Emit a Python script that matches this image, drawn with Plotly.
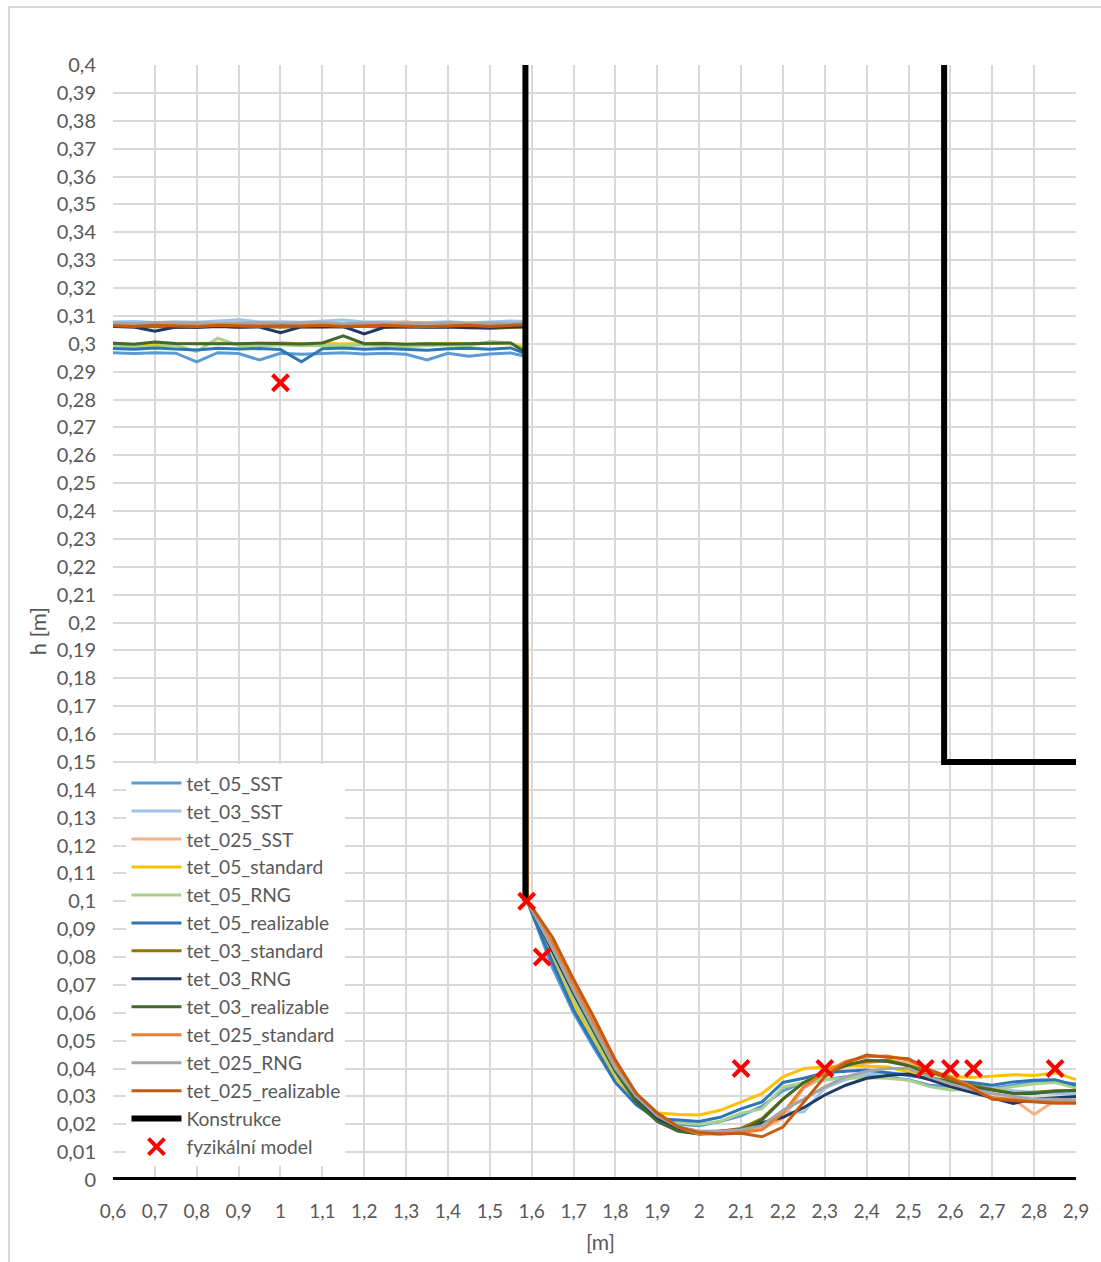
import plotly.graph_objects as go

# ---- x positions [m] ----
x_up = [0.60, 0.65, 0.70, 0.75, 0.80, 0.85, 0.90, 0.95, 1.00, 1.05, 1.10,
        1.15, 1.20, 1.25, 1.30, 1.35, 1.40, 1.45, 1.50, 1.55, 1.585]
x_down = [1.59, 1.60, 1.65, 1.70, 1.75, 1.80, 1.85, 1.90, 1.95, 2.00, 2.05,
          2.10, 2.15, 2.20, 2.25, 2.30, 2.35, 2.40, 2.45, 2.50, 2.55, 2.60,
          2.65, 2.70, 2.75, 2.80, 2.85, 2.90]

# ---- water level h [m] upstream of the gate ----
up_05_SST = [.2968, .2965, .2968, .2966, .2935, .2968, .2965, .2942, .2966, .2962, .2965,
             .2968, .2963, .2966, .2962, .2942, .2966, .2955, .2963, .2967, .2955]
up_03_SST = [.3078, .3080, .3076, .3079, .3077, .3082, .3086, .3078, .3079, .3077, .3082,
             .3085, .3078, .3079, .3077, .3076, .3079, .3075, .3078, .3082, .3080]
up_025_SST = [.3072, .3068, .3074, .3071, .3073, .3069, .3072, .3074, .3070, .3073, .3071,
              .3069, .3074, .3072, .3079, .3068, .3071, .3073, .3068, .3070, .3075]
up_05_standard = [.3003, .2998, .3002, .3000, .3001, .3003, .2999, .3002, .3004, .3000, .3002,
                  .2999, .3001, .3003, .2998, .3001, .3002, .2999, .3003, .3000, .2985]
up_05_RNG = [.2995, .2988, .2992, .2995, .2972, .3020, .2994, .2992, .2996, .2993, .2995,
             .2992, .2996, .2993, .2989, .2994, .2996, .2992, .3008, .3002, .2975]
up_05_realizable = [.2983, .2980, .2985, .2982, .2978, .2984, .2981, .2983, .2979, .2935, .2982,
                    .2985, .2980, .2983, .2981, .2977, .2982, .2984, .2980, .2985, .2965]
up_03_standard = [.3063, .3060, .3062, .3058, .3061, .3063, .3060, .3062, .3059, .3062, .3061,
                  .3060, .3063, .3058, .3061, .3060, .3062, .3059, .3055, .3058, .3060]
up_03_RNG = [.3062, .3060, .3045, .3060, .3058, .3062, .3059, .3060, .3040, .3061, .3060,
             .3062, .3035, .3060, .3061, .3059, .3060, .3057, .3058, .3060, .3062]
up_03_realizable = [.3002, .2998, .3006, .3001, .3000, .2999, .3000, .3002, .3001, .2999, .3003,
                    .3028, .3000, .3001, .2998, .3000, .2999, .3001, .3002, .3003, .2970]
up_025_standard = [.3068, .3066, .3070, .3067, .3069, .3071, .3068, .3066, .3069, .3068, .3070,
                   .3066, .3068, .3067, .3069, .3066, .3065, .3068, .3066, .3069, .3072]
up_025_RNG = [.3075, .3073, .3076, .3074, .3075, .3072, .3074, .3076, .3073, .3075, .3074,
              .3072, .3075, .3073, .3074, .3072, .3075, .3073, .3074, .3072, .3074]
up_025_realizable = [.3065, .3062, .3066, .3063, .3061, .3066, .3064, .3062, .3065, .3063, .3066,
                     .3062, .3064, .3066, .3063, .3061, .3064, .3066, .3062, .3064, .3068]

# ---- water level h [m] downstream of the gate ----
dn_05_SST = [.100, .096, .076, .060, .047, .035, .027, .0215, .020, .0195,
             .021, .023, .0265, .032, .035, .036, .037, .0372, .0368, .036,
             .034, .0335, .0332, .0328, .034, .035, .0352, .0345]
dn_03_SST = [.100, .097, .082, .067, .053, .039, .029, .023, .019, .0175,
             .0175, .018, .020, .024, .0245, .033, .036, .038, .0385, .038,
             .036, .035, .034, .033, .032, .0315, .031, .031]
dn_025_SST = [.100, .097, .084, .069, .055, .041, .030, .024, .019, .017,
              .017, .0175, .0185, .022, .033, .037, .041, .042, .043, .042,
              .039, .036, .033, .0295, .029, .0235, .0285, .028]
dn_05_standard = [.100, .096, .080, .063, .050, .037, .028, .024, .0235, .0233,
                  .025, .028, .031, .037, .040, .0405, .041, .0408, .0405, .0388,
                  .038, .0372, .0368, .0372, .0378, .0375, .0385, .036]
dn_05_RNG = [.100, .096, .081, .065, .051, .038, .028, .0225, .0205, .020,
             .021, .024, .0255, .0333, .035, .036, .0365, .0367, .0365, .0358,
             .0335, .0323, .0325, .0322, .0335, .0345, .035, .033]
dn_05_realizable = [.100, .096, .078, .061, .048, .035, .027, .022, .0215, .021,
                    .0225, .0255, .028, .035, .0365, .0385, .039, .0395, .0385, .0375,
                    .0365, .0355, .035, .034, .0352, .0358, .036, .034]
dn_03_standard = [.100, .097, .083, .068, .054, .040, .029, .022, .018, .0165,
                  .0175, .0185, .022, .029, .035, .039, .0415, .0425, .043, .041,
                  .039, .036, .034, .0325, .031, .0315, .032, .032]
dn_03_RNG = [.100, .097, .082, .067, .053, .039, .029, .022, .018, .017,
             .0175, .018, .0205, .0225, .026, .0305, .034, .0365, .0375, .038,
             .036, .0335, .0315, .0295, .0275, .029, .0295, .030]
dn_03_realizable = [.100, .097, .083, .068, .053, .039, .028, .021, .0175, .0165,
                    .017, .0175, .0215, .029, .035, .038, .041, .043, .0425, .041,
                    .037, .035, .0335, .0323, .031, .031, .0318, .0322]
dn_025_standard = [.100, .097, .085, .070, .056, .042, .031, .024, .019, .0165,
                   .0165, .017, .018, .024, .0335, .0385, .0425, .0442, .0445, .043,
                   .0395, .037, .0335, .0295, .029, .0285, .028, .0278]
dn_025_RNG = [.100, .097, .083, .068, .054, .040, .030, .023, .019, .0175,
              .0175, .018, .0195, .025, .029, .0334, .037, .039, .040, .040,
              .037, .0345, .0325, .031, .030, .029, .029, .0287]
dn_025_realizable = [.100, .098, .087, .072, .058, .043, .031, .024, .019, .017,
                     .0165, .0168, .0155, .019, .028, .037, .042, .0448, .044, .0435,
                     .0395, .0365, .033, .029, .0285, .028, .0275, .0275]

series_names = ["tet_05_SST", "tet_03_SST", "tet_025_SST", "tet_05_standard",
                "tet_05_RNG", "tet_05_realizable", "tet_03_standard", "tet_03_RNG",
                "tet_03_realizable", "tet_025_standard", "tet_025_RNG",
                "tet_025_realizable"]
series_up = [up_05_SST, up_03_SST, up_025_SST, up_05_standard, up_05_RNG,
             up_05_realizable, up_03_standard, up_03_RNG, up_03_realizable,
             up_025_standard, up_025_RNG, up_025_realizable]
series_down = [dn_05_SST, dn_03_SST, dn_025_SST, dn_05_standard, dn_05_RNG,
               dn_05_realizable, dn_03_standard, dn_03_RNG, dn_03_realizable,
               dn_025_standard, dn_025_RNG, dn_025_realizable]
series_colors = ["#5B9BD5", "#9DC3E6", "#F4B183", "#FFC000", "#A9D18E", "#2E75B6",
                 "#997300", "#203864", "#43682B", "#ED7D31", "#A5A5A5", "#C55A11"]

# ---- structure outline (gate, weir, channel bottom) ----
konstr_x = [1.585, 1.585, None, 2.585, 2.585, 2.9, None, 0.6, 2.9]
konstr_y = [0.4, 0.1, None, 0.4, 0.15, 0.15, None, 0.0, 0.0]

# ---- physical model measurements ----
model_x = [1.0, 1.588, 1.625, 2.1, 2.3, 2.54, 2.6, 2.655, 2.85]
model_y = [0.286, 0.1, 0.08, 0.04, 0.04, 0.04, 0.04, 0.04, 0.04]

# ---- axis ticks ----
x_ticks = [round(0.6 + 0.1 * i, 1) for i in range(24)]
y_ticks = [round(0.01 * i, 2) for i in range(41)]


def cz(v):
    return f"{v:g}".replace(".", ",")


FONT = "Lato"
GREY = "#595959"

fig = go.Figure()
for name, up, dn, col in zip(series_names, series_up, series_down, series_colors):
    fig.add_trace(go.Scatter(
        x=x_up + x_down, y=up + dn, name=name, mode="lines",
        line=dict(color=col, width=3)))

fig.add_trace(go.Scatter(
    x=konstr_x, y=konstr_y, name="Konstrukce", mode="lines",
    line=dict(color="black", width=6), cliponaxis=False))

fig.add_trace(go.Scatter(
    x=model_x, y=model_y, name="fyzikální model", mode="markers",
    marker=dict(symbol="x-thin", size=16, color="#FF0000",
                line=dict(color="#FF0000", width=4)),
    cliponaxis=False))

fig.update_layout(
    width=1101, height=1262,
    margin=dict(l=113, r=25, t=65, b=82),
    paper_bgcolor="white", plot_bgcolor="white",
    font=dict(family=FONT, size=20, color=GREY),
    showlegend=True,
    legend=dict(x=0.014, y=0.373, xanchor="left", yanchor="top",
                bgcolor="white", borderwidth=0, itemwidth=50,
                font=dict(family=FONT, size=19.2, color=GREY),
                tracegroupgap=0),
    xaxis=dict(range=[0.6, 2.9], tickmode="array", tickvals=x_ticks,
               ticktext=[cz(v) for v in x_ticks],
               tickfont=dict(size=19),
               showgrid=True, gridcolor="#D9D9D9", gridwidth=2,
               zeroline=False, showline=False,
               ticks="outside", ticklen=14, tickcolor="rgba(0,0,0,0)"),
    yaxis=dict(range=[0, 0.4], tickmode="array", tickvals=y_ticks,
               ticktext=[cz(v) for v in y_ticks],
               tickfont=dict(size=20),
               showgrid=True, gridcolor="#D9D9D9", gridwidth=2,
               zeroline=False, showline=False,
               ticks="outside", ticklen=12, tickcolor="rgba(0,0,0,0)"),
    shapes=[dict(type="rect", xref="paper", yref="paper",
                 x0=-0.108, x1=1.04, y0=-0.08, y1=1.052,
                 line=dict(color="#D9D9D9", width=2), fillcolor="rgba(0,0,0,0)",
                 layer="below")],
    annotations=[
        dict(text="h [m]", xref="paper", yref="paper", x=-0.079, y=0.492,
             xanchor="center", yanchor="middle",
             textangle=-90, showarrow=False, font=dict(family=FONT, size=22, color=GREY)),
        dict(text="[m]", xref="paper", yref="paper", x=0.506, y=-0.0555,
             xanchor="center", yanchor="middle",
             showarrow=False, font=dict(family=FONT, size=21, color=GREY)),
    ],
)

fig.write_html("out.html")
